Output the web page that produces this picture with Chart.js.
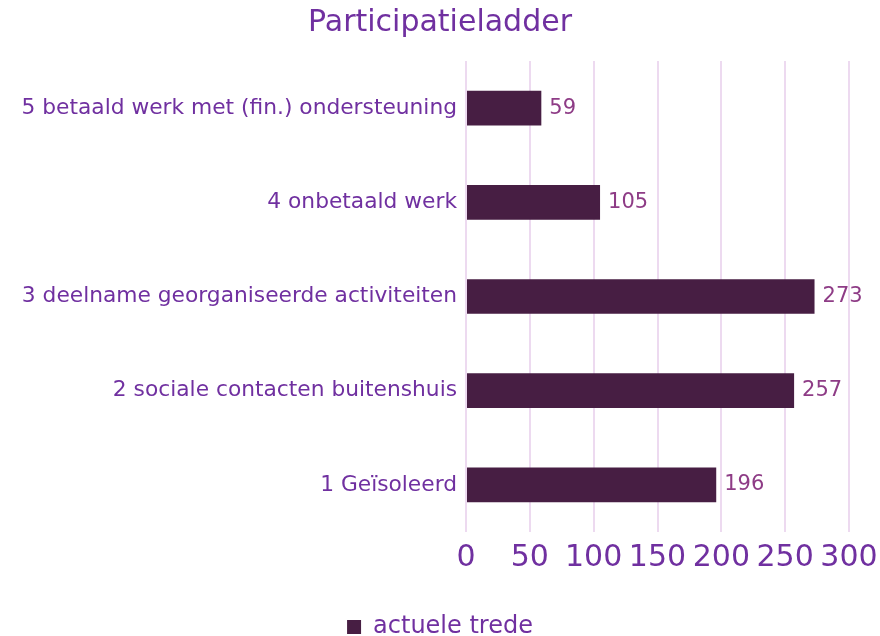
<!DOCTYPE html>
<html>
<head>
<meta charset="utf-8">
<script src="https://cdn.jsdelivr.net/npm/chart.js@4"></script>
<style>
  body { margin: 0; background: #fff; }
</style>
</head>
<body>
<canvas id="myChart" width="880" height="636"></canvas>
<script>
const categories = [
  "5 betaald werk met (fin.) ondersteuning",
  "4 onbetaald werk",
  "3 deelname georganiseerde activiteiten",
  "2 sociale contacten buitenshuis",
  "1 Geïsoleerd"
];
const trede = [59, 105, 273, 257, 196];
const seriesName = "actuele trede";
const xTicks = [0, 50, 100, 150, 200, 250, 300];

const purple = "#7030A0";
const barColor = "#471E43";

// value labels at the end of each bar
const valueLabels = {
  id: "valueLabels",
  afterDatasetsDraw(chart) {
    const { ctx } = chart;
    const meta = chart.getDatasetMeta(0);
    ctx.save();
    ctx.font = "21px 'DejaVu Sans'";
    ctx.fillStyle = "#8E3C86";
    ctx.textBaseline = "middle";
    meta.data.forEach((bar, i) => {
      ctx.fillText(String(trede[i]), bar.x + 8, bar.y);
    });
    ctx.restore();
  }
};

const ctx = document.getElementById("myChart");
new Chart(ctx, {
  type: "bar",
  data: {
    labels: categories,
    datasets: [{
      label: seriesName,
      data: trede,
      backgroundColor: barColor,
      borderWidth: 0,
      categoryPercentage: 0.8,
      barPercentage: 0.46
    }]
  },
  options: {
    indexAxis: "y",
    responsive: false,
    animation: false,
    layout: { padding: { left: 0, right: 0, top: 0, bottom: -13 } },
    scales: {
      x: {
        min: 0,
        max: 300,
        afterBuildTicks: (axis) => { axis.ticks = xTicks.map(v => ({ value: v })); },
        afterFit: (axis) => { axis.height += 22; axis.paddingRight = 31; },
        grid: { color: "#EDDAF0", lineWidth: 2, drawTicks: false },
        border: { display: false },
        ticks: { color: purple, font: { family: "DejaVu Sans", size: 30 }, padding: 8, maxRotation: 0 }
      },
      y: {
        afterFit: (axis) => { axis.width = 466; },
        grid: { display: false },
        border: { display: false },
        ticks: { color: purple, font: { family: "DejaVu Sans", size: 21.75 }, padding: 1 }
      }
    },
    plugins: {
      title: {
        display: true,
        text: "Participatieladder",
        color: purple,
        font: { family: "DejaVu Sans", size: 30, weight: "normal" },
        padding: { top: 5, bottom: 20 }
      },
      legend: {
        position: "bottom",
        labels: {
          color: purple,
          font: { family: "DejaVu Sans", size: 24 },
          boxWidth: 14,
          boxHeight: 14,
          padding: 9
        }
      },
      tooltip: { enabled: false }
    }
  },
  plugins: [valueLabels]
});
</script>
</body>
</html>
